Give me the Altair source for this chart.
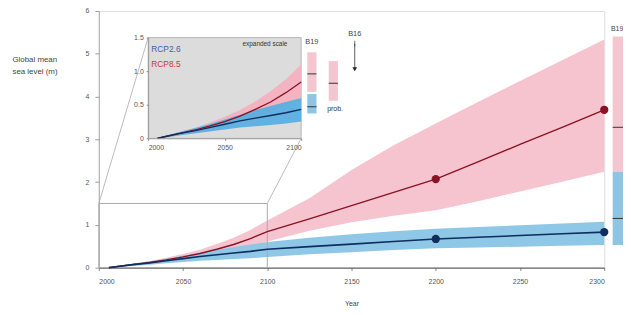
import altair as alt
import pandas as pd

# ---------------- data ----------------
years = [2006, 2010, 2020, 2030, 2040, 2050, 2060, 2070, 2080, 2090, 2100,
         2125, 2150, 2175, 2200, 2225, 2250, 2275, 2300]
rcp85_med = [0, 0.02, 0.07, 0.12, 0.18, 0.25, 0.33, 0.43, 0.54, 0.68, 0.84,
             1.14, 1.45, 1.76, 2.07, 2.47, 2.88, 3.28, 3.69]
rcp85_lo = [0, 0.01, 0.05, 0.09, 0.14, 0.19, 0.25, 0.32, 0.40, 0.50, 0.61,
            0.86, 1.06, 1.21, 1.34, 1.55, 1.78, 2.01, 2.24]
rcp85_hi = [0, 0.03, 0.09, 0.15, 0.23, 0.32, 0.42, 0.55, 0.70, 0.88, 1.10,
            1.62, 2.28, 2.86, 3.37, 3.87, 4.36, 4.85, 5.33]
rcp26_med = [0, 0.02, 0.07, 0.11, 0.16, 0.21, 0.26, 0.30, 0.34, 0.38, 0.43,
             0.49, 0.55, 0.61, 0.67, 0.71, 0.75, 0.79, 0.83]
rcp26_lo = [0, 0.01, 0.04, 0.07, 0.10, 0.13, 0.16, 0.18, 0.20, 0.22, 0.25,
            0.31, 0.36, 0.41, 0.45, 0.47, 0.49, 0.51, 0.53]
rcp26_hi = [0, 0.03, 0.09, 0.15, 0.21, 0.28, 0.35, 0.42, 0.48, 0.54, 0.60,
            0.70, 0.78, 0.85, 0.91, 0.95, 0.99, 1.03, 1.07]

dot_years = [2200, 2300]
dot_rcp85 = [2.07, 3.69]
dot_rcp26 = [0.67, 0.83]

x_ticks = [2000, 2050, 2100, 2150, 2200, 2250, 2300]
y_ticks = [0, 1, 2, 3, 4, 5, 6]
inset_x_ticks = [2000, 2050, 2100]
inset_y_ticks = [0, 0.5, 1.0, 1.5]

# B19 bars beyond 2300 (main scale)
b19_main_x = [2305, 2312]
b19_main_red = [2.24, 5.40, 3.28]   # low, high, median
b19_main_blue = [0.53, 2.24, 1.15]

# side bars next to the inset (inset scale)
side_bars = pd.DataFrame({
    "x0": [2104, 2104, 2118],
    "x1": [2110, 2110, 2124],
    "lo": [0.69, 0.37, 0.56],
    "hi": [1.28, 0.66, 1.15],
    "med": [0.96, 0.47, 0.82],
    "kind": ["red", "blue", "red"],
})
b16_x = 2135
b16_top = 1.41
b16_bottom = 1.03

# zoom box and connector lines (main scale)
zoom_box = pd.DataFrame({"x0": [2000], "x1": [2100], "y0": [0], "y1": [1.5]})
connectors = pd.DataFrame({"x0": [2000, 2100], "y0": [1.5, 1.5],
                           "x1": [2029.3, 2120.1], "y1": [5.38, 3.02]})

# ---------------- styles ----------------
FONT = "Liberation Sans"
W, H = 512, 260
RED_BAND = "#f6c4ce"
BLUE_BAND = "#8fc7e6"
RED_LINE = "#8a1222"
BLUE_LINE = "#0f2d5e"
LABEL = "#555555"

main_df = pd.DataFrame({"year": years, "r_med": rcp85_med, "r_lo": rcp85_lo,
                        "r_hi": rcp85_hi, "b_med": rcp26_med, "b_lo": rcp26_lo,
                        "b_hi": rcp26_hi})
inset_df = main_df[main_df["year"] <= 2100]

x_main = alt.Scale(domain=[2000, 2300], nice=False, zero=False)
y_main = alt.Scale(domain=[0, 6], nice=False)
x_ax = alt.Axis(values=x_ticks, format="d", title="Year", grid=False,
                labelFontSize=7, labelColor=LABEL, tickSize=3, tickColor="#888",
                domainColor="#444", labelPadding=7, titleFontSize=7,
                titleFontWeight="normal", titleColor="#444", titlePadding=15)
y_ax = alt.Axis(values=y_ticks, title=["Global mean", "sea level (m)"], grid=False,
                labelFontSize=7, labelColor=LABEL, tickSize=4, tickColor="#999",
                domainColor="#aaa", labelPadding=6, titleAngle=0, titleAlign="left",
                titleBaseline="alphabetic", titleX=-88, titleY=51,
                titleFontSize=8, titleFontWeight="normal", titleColor="#444",
                titleLineHeight=12)

def X(f):
    return alt.X(f, type="quantitative", scale=x_main, axis=x_ax)

def Y(f):
    return alt.Y(f, type="quantitative", scale=y_main, axis=y_ax)

base = alt.Chart(main_df)
red_band = base.mark_area(color=RED_BAND, opacity=1).encode(x=X("year"), y=Y("r_lo"), y2="r_hi")
blue_band = base.mark_area(color=BLUE_BAND, opacity=1).encode(x=X("year"), y=Y("b_lo"), y2="b_hi")
red_line = base.mark_line(color=RED_LINE, strokeWidth=1.4).encode(x=X("year"), y=Y("r_med"))
blue_line = base.mark_line(color=BLUE_LINE, strokeWidth=1.6).encode(x=X("year"), y=Y("b_med"))

dots_df = pd.DataFrame({"year": dot_years * 2, "v": dot_rcp85 + dot_rcp26,
                        "c": [RED_LINE] * 2 + [BLUE_LINE] * 2})
dots = alt.Chart(dots_df).mark_circle(size=70, opacity=1).encode(
    x=X("year"), y=Y("v"), color=alt.Color("c:N", scale=None))

zoom_rect = alt.Chart(zoom_box).mark_rect(fill="transparent", stroke="#aaa", strokeWidth=1).encode(
    x=X("x0"), x2="x1", y=Y("y0"), y2="y1")
conn = alt.Chart(connectors).mark_rule(color="#aaa", strokeWidth=0.8).encode(
    x=X("x0"), x2="x1", y=Y("y0"), y2="y1")

b19m = pd.DataFrame({"x0": [b19_main_x[0]] * 2, "x1": [b19_main_x[1]] * 2,
                     "lo": [b19_main_red[0], b19_main_blue[0]],
                     "hi": [b19_main_red[1], b19_main_blue[1]],
                     "med": [b19_main_red[2], b19_main_blue[2]],
                     "c": ["#f3c6d0", "#8fc4e2"]})
b19m_bars = alt.Chart(b19m).mark_rect().encode(
    x=X("x0"), x2="x1", y=Y("lo"), y2="hi", color=alt.Color("c:N", scale=None))
b19m_med = alt.Chart(b19m).mark_rule(color="#333", strokeWidth=1).encode(
    x=X("x0"), x2="x1", y=Y("med"))
b19m_lbl = alt.Chart(pd.DataFrame({"x": [2304], "y": [5.58], "t": ["B19"]})).mark_text(
    font=FONT, fontSize=7, color="#444", align="left").encode(x=X("x"), y=Y("y"), text="t")

main = alt.layer(red_band, blue_band, zoom_rect, conn, red_line, blue_line, dots,
                 b19m_bars, b19m_med, b19m_lbl)

# ---------------- inset ----------------
x_in = alt.Scale(domain=[2000, 2100], range=[50, 205], nice=False, zero=False)
y_in = alt.Scale(domain=[0, 1.5], range=[129, 27], nice=False)
x_in_ax = alt.Axis(orient="bottom", offset=-131, values=inset_x_ticks, format="d",
                   title=None, grid=False, labelFontSize=7, labelColor=LABEL,
                   tickSize=2, tickColor="#888", domainColor="#999", labelPadding=3,
                   zindex=1)
y_in_ax = alt.Axis(orient="left", offset=-50, values=inset_y_ticks, title=None,
                   grid=False, labelFontSize=7, labelColor=LABEL, tickSize=2,
                   tickColor="#888", domainColor="#999", labelPadding=3, zindex=1,
                   labelExpr="datum.value == 0 ? '0' : format(datum.value, '.1f')")

def XI(f):
    return alt.X(f, type="quantitative", scale=x_in, axis=x_in_ax)

def YI(f):
    return alt.Y(f, type="quantitative", scale=y_in, axis=y_in_ax)

bg = alt.Chart(pd.DataFrame({"x0": [2000], "x1": [2100], "y0": [0], "y1": [1.5]})).mark_rect(
    fill="#dcdcdc", stroke="#aaa", strokeWidth=0.8).encode(x=XI("x0"), x2="x1", y=YI("y0"), y2="y1")
ib = alt.Chart(inset_df)
i_red_band = ib.mark_area(color="#f4b3c0", opacity=1).encode(x=XI("year"), y=YI("r_lo"), y2="r_hi")
i_blue_band = ib.mark_area(color="#5aaee0", opacity=0.95).encode(x=XI("year"), y=YI("b_lo"), y2="b_hi")
i_red_line = ib.mark_line(color=RED_LINE, strokeWidth=1.3).encode(x=XI("year"), y=YI("r_med"))
i_blue_line = ib.mark_line(color=BLUE_LINE, strokeWidth=1.4).encode(x=XI("year"), y=YI("b_med"))

side_bars["c"] = side_bars["kind"].map({"red": "#f3c6d0", "blue": "#8fc4e2"})
sb = alt.Chart(side_bars).mark_rect().encode(
    x=XI("x0"), x2="x1", y=YI("lo"), y2="hi", color=alt.Color("c:N", scale=None))
sb_med = alt.Chart(side_bars).mark_rule(color="#333", strokeWidth=1).encode(
    x=XI("x0"), x2="x1", y=YI("med"))

b16_df = pd.DataFrame({"x": [b16_x], "top": [b16_top], "bot": [b16_bottom]})
b16_rule = alt.Chart(b16_df).mark_rule(color="#333", strokeWidth=0.8).encode(
    x=XI("x"), y=YI("top"), y2="bot")
b16_tick = alt.Chart(b16_df).mark_tick(color="#333", size=6, thickness=1).encode(
    x=XI("x"), y=YI("top"))
b16_head = alt.Chart(b16_df).mark_point(shape="triangle-down", filled=True, size=22,
                                        color="#222", opacity=1).encode(x=XI("x"), y=YI("bot"))

texts = pd.DataFrame({
    "x": [2002, 2002, 2091, 2107, 2135, 2117],
    "y": [1.33, 1.11, 1.40, 1.44, 1.56, 0.44],
    "t": ["RCP2.6", "RCP8.5", "expanded scale", "B19", "B16", "prob."],
    "c": ["#3d63a8", "#c23b3b", "#333333", "#444444", "#444444", "#333333"],
    "a": ["left", "left", "right", "center", "center", "left"],
    "s": [8.5, 8.5, 6.5, 7.5, 7.5, 7],
})
text_layers = []
for i in range(len(texts)):
    r = texts.iloc[i]
    text_layers.append(
        alt.Chart(texts.iloc[[i]]).mark_text(font=FONT, fontSize=float(r["s"]), color=str(r["c"]),
                                             fill=str(r["c"]), align=str(r["a"]),
                                             baseline="middle").encode(
            x=XI("x"), y=YI("y"), text="t"))

inset = alt.layer(bg, i_red_band, i_blue_band, i_red_line, i_blue_line, sb, sb_med,
                  b16_rule, b16_tick, b16_head, *text_layers)

chart = alt.layer(main, inset).resolve_scale(x="independent", y="independent").properties(
    width=W, height=H,
    autosize=alt.AutoSizeParams(type="none"),
    padding={"left": 92, "top": 1, "right": 19, "bottom": 46},
).configure_view(stroke="#c8c8c8").configure(font=FONT)

chart.save("out.html", embed_options={"renderer": "svg", "actions": False})
